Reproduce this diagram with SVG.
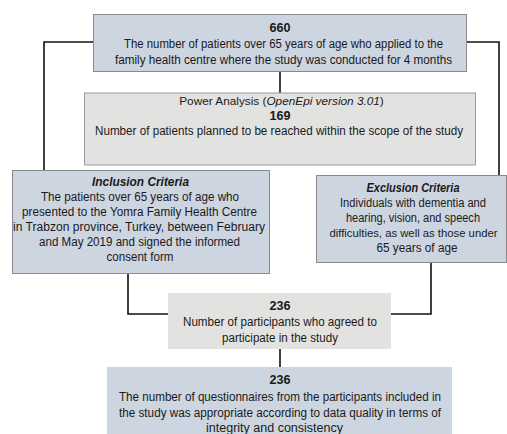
<svg xmlns="http://www.w3.org/2000/svg" width="507" height="434" viewBox="0 0 507 434">
<style>
text{font-family:"Liberation Sans",Arial,sans-serif;font-size:12.5px;fill:#1a1a1a;text-anchor:middle}
.b{font-weight:bold}
.bi{font-weight:bold;font-style:italic}
.i{font-style:italic}
.blue{fill:#cdd5e0;stroke:#8a8a8a;stroke-width:1}
.gray{fill:#e2e2e0;stroke:#9a9a9a;stroke-width:1}
.blue-nb{fill:#cdd5e0}
.gray-nb{fill:#e2e2e0}
.conn{fill:none;stroke:#111;stroke-width:1.6}
</style>
<rect width="507" height="434" fill="#fff"/>
<g id="connectors">
<path class="conn" d="M93,42 H44 V170"/>
<path class="conn" d="M467,42 H499 V175"/>
<path class="conn" d="M280,71 V93"/>
<path class="conn" d="M128,273 V314 H168"/>
<path class="conn" d="M431,262 V314 H391"/>
<path class="conn" d="M280,349 V367"/>
</g>
<g id="node-660">
<rect class="blue" x="93.5" y="14.5" width="373" height="57"/>
<text class="b" x="280" y="32" textLength="21" lengthAdjust="spacingAndGlyphs">660</text>
<text x="283.5" y="48" textLength="319" lengthAdjust="spacingAndGlyphs">The number of patients over 65 years of age who applied to the</text>
<text x="283.5" y="64" textLength="337" lengthAdjust="spacingAndGlyphs">family health centre where the study was conducted for 4 months</text>
</g>
<g id="node-power">
<rect class="gray" x="84.5" y="93" width="391" height="72"/>
<text x="281.5" y="105" style="font-size:11.8px">Power Analysis (<tspan class="i">OpenEpi version 3.01</tspan>)</text>
<text class="b" x="280" y="120" textLength="21" lengthAdjust="spacingAndGlyphs">169</text>
<text x="279" y="135" textLength="368" lengthAdjust="spacingAndGlyphs">Number of patients planned to be reached within the scope of the study</text>
</g>
<g id="node-inclusion">
<rect class="blue" x="12.5" y="170.5" width="257" height="103"/>
<text class="bi" x="140.5" y="186" textLength="97" lengthAdjust="spacingAndGlyphs">Inclusion Criteria</text>
<text x="140" y="201" textLength="198" lengthAdjust="spacingAndGlyphs">The patients over 65 years of age who</text>
<text x="139.5" y="216" textLength="235" lengthAdjust="spacingAndGlyphs">presented to the Yomra Family Health Centre</text>
<text x="139" y="231" textLength="252" lengthAdjust="spacingAndGlyphs">in Trabzon province, Turkey, between February</text>
<text x="139.5" y="246" textLength="201" lengthAdjust="spacingAndGlyphs">and May 2019 and signed the informed</text>
<text x="140" y="261" textLength="67" lengthAdjust="spacingAndGlyphs">consent form</text>
</g>
<g id="node-exclusion">
<rect class="blue" x="316.5" y="175.5" width="190" height="87"/>
<text class="bi" x="413" y="192" textLength="93" lengthAdjust="spacingAndGlyphs">Exclusion Criteria</text>
<text x="413" y="207" textLength="146" lengthAdjust="spacingAndGlyphs">Individuals with dementia and</text>
<text x="413" y="222" textLength="134" lengthAdjust="spacingAndGlyphs">hearing, vision, and speech</text>
<text x="413.5" y="237" style="font-size:11.6px" textLength="168" lengthAdjust="spacingAndGlyphs">difficulties, as well as those under</text>
<text x="417" y="252" textLength="81" lengthAdjust="spacingAndGlyphs">65 years of age</text>
</g>
<g id="node-236a">
<rect class="gray-nb" x="168" y="293" width="223" height="56"/>
<text class="b" x="280" y="310" textLength="21" lengthAdjust="spacingAndGlyphs">236</text>
<text x="280" y="326" textLength="194" lengthAdjust="spacingAndGlyphs">Number of participants who agreed to</text>
<text x="280" y="342" textLength="116" lengthAdjust="spacingAndGlyphs">participate in the study</text>
</g>
<g id="node-236b">
<rect class="blue-nb" x="107" y="367" width="345" height="70"/>
<text class="b" x="280" y="384" textLength="21" lengthAdjust="spacingAndGlyphs">236</text>
<text x="280" y="401" textLength="322" lengthAdjust="spacingAndGlyphs">The number of questionnaires from the participants included in</text>
<text x="280" y="417" textLength="322" lengthAdjust="spacingAndGlyphs">the study was appropriate according to data quality in terms of</text>
<text x="274.5" y="432" textLength="137" lengthAdjust="spacingAndGlyphs">integrity and consistency</text>
</g>
</svg>
